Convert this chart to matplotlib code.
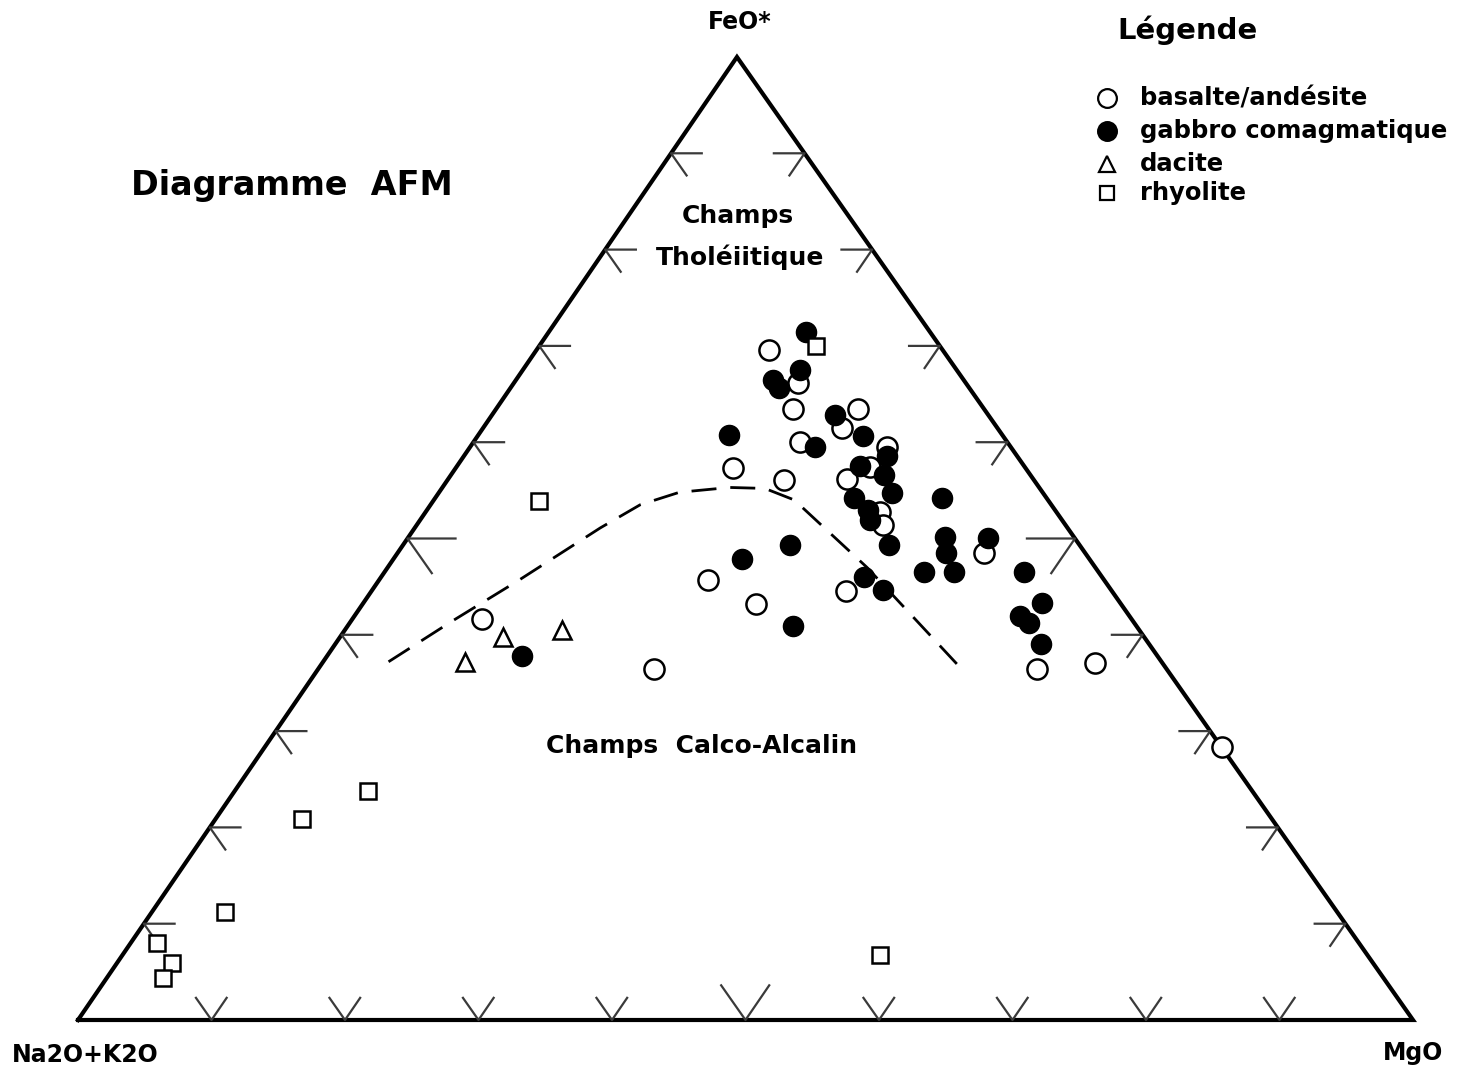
import numpy as np
import matplotlib.pyplot as plt

plt.rcParams['font.family'] = ['DejaVu Sans']
plt.rcParams['font.weight'] = 'bold'

# AFM compositions in % : A = Na2O+K2O, F = FeO*, M = MgO
basalte_A = [13.0, 12.6, 14.3, 9.5, 11.6, 15.5, 9.3, 11.6, 13.9, 13.2, 13.7,
             21.9, 18.7, 29.7, 27.3, 19.9, 7.6, 9.7, 5.0, 0.0, 48.7, 38.4]
basalte_F = [69.6, 66.1, 63.4, 63.4, 61.5, 60.0, 59.5, 57.4, 56.2, 52.8, 51.4,
             57.3, 56.1, 45.7, 43.2, 44.5, 48.5, 36.4, 37.1, 28.3, 41.6, 36.4]
basalte_M = [17.4, 21.3, 22.3, 27.1, 26.9, 24.5, 31.2, 31.0, 29.9, 34.0, 34.9,
             20.8, 25.2, 24.6, 29.5, 35.6, 43.9, 53.9, 57.9, 71.7, 9.7, 25.2]

gabbro_A = [9.3, 14.3, 14.3, 11.7, 11.5, 10.5, 14.7, 9.7, 12.3, 11.0, 11.3,
            14.4, 14.0, 14.4, 14.3, 20.5, 26.0, 21.7, 25.7, 17.8, 17.1, 7.8,
            9.6, 10.4, 13.1, 10.8, 6.5, 5.6, 5.9, 8.2, 7.9, 8.1, 47.6]
gabbro_F = [71.4, 66.5, 65.6, 67.5, 62.8, 60.6, 59.5, 58.6, 57.5, 56.6, 54.7,
            54.2, 53.0, 51.9, 49.3, 60.7, 47.9, 49.3, 40.9, 46.0, 44.7, 54.2,
            50.2, 48.5, 46.5, 46.5, 50.1, 46.5, 43.3, 42.0, 41.2, 39.0, 37.8]
gabbro_M = [19.3, 19.2, 20.1, 20.8, 25.7, 28.9, 25.8, 31.7, 30.2, 32.4, 34.0,
            31.4, 33.0, 33.7, 36.4, 18.8, 26.1, 29.0, 33.4, 36.2, 38.2, 38.0,
            40.2, 41.1, 40.4, 42.7, 43.4, 47.9, 50.8, 49.8, 50.9, 52.9, 14.6]

dacite_A = [52.2, 48.0, 43.2]
dacite_F = [37.2, 39.8, 40.5]
dacite_M = [10.6, 12.2, 16.3]

rhyolite_A = [9.3, 38.2, 66.2, 72.6, 83.3, 90.0, 90.0, 91.4, 36.5]
rhyolite_F = [70.0, 53.9, 23.8, 20.9, 11.2, 8.0, 5.9, 4.4, 6.7]
rhyolite_M = [20.7, 7.9, 10.0, 6.5, 5.5, 2.0, 4.1, 4.2, 56.8]

# boundary tholeiitic / calc-alkaline
limite_A = [57.9, 51.2, 43.8, 35.0, 30.8, 27.2, 23.2, 20.6, 19.0, 17.1, 15.4]
limite_F = [37.2, 41.3, 45.7, 51.1, 53.5, 54.8, 55.3, 55.2, 54.0, 47.0, 36.7]
limite_M = [4.9, 7.5, 10.5, 13.9, 15.7, 18.0, 21.5, 24.2, 27.0, 35.9, 47.9]

TOP_X = 0.4936  # horizontal position of the FeO* apex (figure is not equilateral)


def to_xy(a, f, m):
    a, f, m = np.asarray(a, float), np.asarray(f, float), np.asarray(m, float)
    s = a + f + m
    f, m = f / s, m / s
    return m + f * TOP_X, f


W, H = 1464, 1068
fig = plt.figure(figsize=(W / 100, H / 100), dpi=100)
ax = fig.add_axes([78 / W, (H - 1020) / H, 1335 / W, 963 / H])
ax.set_xlim(0, 1)
ax.set_ylim(0, 1)
ax.axis('off')

# triangle frame
fx, fy = to_xy([100, 0, 0, 100], [0, 0, 100, 0], [0, 100, 0, 0])
ax.plot(fx, fy, color='black', lw=3.0, solid_joinstyle='miter', clip_on=False)

# chevron ticks every 10 %
tick_kw = dict(color='#3a3a3a', lw=1.6, clip_on=False)
for k in range(1, 10):
    t = k / 10
    d = 0.036 if k == 5 else 0.023
    # left side (M = 0)
    x0, y0 = to_xy(1 - t, t, 0)
    x1, y1 = to_xy(1 - t - d, t, d)
    x2, y2 = to_xy(1 - t, t - d, d)
    ax.plot([x1, x0, x2], [y1, y0, y2], **tick_kw)
    # right side (A = 0)
    x0, y0 = to_xy(0, t, 1 - t)
    x1, y1 = to_xy(d, t, 1 - t - d)
    x2, y2 = to_xy(d, t - d, 1 - t)
    ax.plot([x1, x0, x2], [y1, y0, y2], **tick_kw)
    # bottom side (F = 0)
    x0, y0 = to_xy(1 - t, 0, t)
    x1, y1 = to_xy(1 - t - d, d, t)
    x2, y2 = to_xy(1 - t, d, t - d)
    ax.plot([x1, x0, x2], [y1, y0, y2], **tick_kw)

# boundary curve
lx, ly = to_xy(limite_A, limite_F, limite_M)
ax.plot(lx, ly, color='black', lw=2.0, dashes=(9, 5))

# samples
x, y = to_xy(basalte_A, basalte_F, basalte_M)
ax.plot(x, y, 'o', ms=14.5, mfc='white', mec='black', mew=1.8, clip_on=False)
x, y = to_xy(gabbro_A, gabbro_F, gabbro_M)
ax.plot(x, y, 'o', ms=14.5, mfc='black', mec='black', mew=1.0, clip_on=False)
x, y = to_xy(dacite_A, dacite_F, dacite_M)
ax.plot(x, y, '^', ms=13, mfc='white', mec='black', mew=1.8, clip_on=False)
x, y = to_xy(rhyolite_A, rhyolite_F, rhyolite_M)
ax.plot(x, y, 's', ms=11, mfc='white', mec='black', mew=1.8, clip_on=False)

# labels


def ftext(px, py, s, **kw):
    fig.text(px / W, 1 - py / H, s, **kw)


ftext(740, 22, 'FeO*', fontsize=17, ha='center', va='center')
ftext(85, 1055, 'Na2O+K2O', fontsize=17, ha='center', va='center')
ftext(1413, 1053, 'MgO', fontsize=17, ha='center', va='center')
ftext(292, 185, 'Diagramme  AFM', fontsize=24, ha='center', va='center')
ftext(738, 216, 'Champs', fontsize=18, ha='center', va='center')
ftext(740, 257, 'Tholéiitique', fontsize=18, ha='center', va='center')
ftext(702, 746, 'Champs  Calco-Alcalin', fontsize=18, ha='center', va='center')

# legend drawn as symbols + text
ftext(1188, 30, 'Légende', fontsize=21, ha='center', va='center')
leg = [('o', 'white', 'basalte/andésite', 98),
       ('o', 'black', 'gabbro comagmatique', 131),
       ('^', 'white', 'dacite', 164),
       ('s', 'white', 'rhyolite', 193)]
for mk, fc, lab, py in leg:
    ms = {'o': 13.5, '^': 11, 's': 10}[mk]
    fig.lines.append(plt.Line2D([1107 / W], [1 - py / H], marker=mk, ms=ms,
                                mfc=fc, mec='black', mew=1.6,
                                transform=fig.transFigure))
    ftext(1140, py, lab, fontsize=17.5, ha='left', va='center')

fig.savefig('out.png', dpi=100, facecolor='white')
